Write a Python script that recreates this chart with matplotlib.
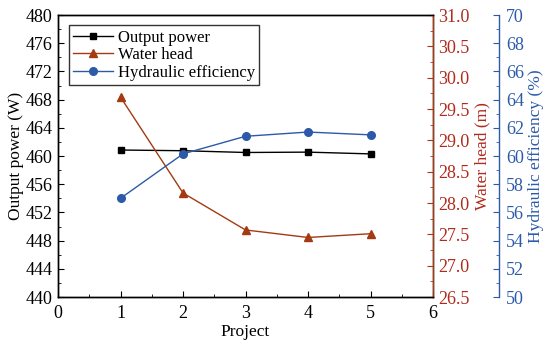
import matplotlib
matplotlib.use("Agg")
import matplotlib.pyplot as plt
from matplotlib.ticker import MultipleLocator, FormatStrFormatter

plt.rcParams['font.family'] = ['Liberation Serif', 'DejaVu Serif']
plt.rcParams['mathtext.fontset'] = 'stix'

projects = [1, 2, 3, 4, 5]
output_power = [460.85, 460.75, 460.5, 460.55, 460.3]
water_head = [29.69, 28.16, 27.57, 27.45, 27.51]
hydraulic_eff = [57.0, 60.15, 61.4, 61.7, 61.5]

c_power = 'black'
c_head = '#A33A12'
c_head_txt = '#B02A1E'
c_eff = '#2C5AA8'

fig = plt.figure(figsize=(5.5, 3.46), dpi=100)
ax = fig.add_axes([0.1055, 0.1416, 0.6818, 0.815])
ax2 = ax.twinx()
ax3 = ax.twinx()
ax3.spines['right'].set_position(('axes', 1.176))

fs_tick = 13
fs_lab = 12.5
fs_leg = 12
l1, = ax.plot(projects, output_power, color=c_power, marker='s', ms=4.5, lw=1, label='Output power')
l2, = ax2.plot(projects, water_head, color=c_head, marker='^', ms=5.5, lw=1, label='Water head')
l3, = ax3.plot(projects, hydraulic_eff, color=c_eff, marker='o', ms=5.5, lw=1, label='Hydraulic efficiency')

ax.set_xlim(0, 6)
ax.set_ylim(440, 480)
ax2.set_ylim(26.5, 31.0)
ax3.set_ylim(50, 70)

ax.xaxis.set_major_locator(MultipleLocator(1))
ax.xaxis.set_minor_locator(MultipleLocator(0.5))
ax.yaxis.set_major_locator(MultipleLocator(4))
ax.yaxis.set_minor_locator(MultipleLocator(2))
ax2.yaxis.set_major_locator(MultipleLocator(0.5))
ax2.yaxis.set_minor_locator(MultipleLocator(0.25))
ax2.yaxis.set_major_formatter(FormatStrFormatter('%.1f'))
ax3.yaxis.set_major_locator(MultipleLocator(2))
ax3.yaxis.set_minor_locator(MultipleLocator(1))

ax.tick_params(axis='both', which='major', direction='in', length=4, labelsize=fs_tick, top=False, right=False)
ax.tick_params(axis='both', which='minor', direction='in', length=2, top=False, right=False)
ax.tick_params(axis='x', which='major', pad=6)
ax.tick_params(axis='y', which='major', pad=4)

ax2.tick_params(axis='y', which='major', direction='in', length=4, labelsize=fs_tick, colors=c_head, labelcolor=c_head_txt, pad=4)
ax2.tick_params(axis='y', which='minor', direction='in', length=2, colors=c_head)
ax3.tick_params(axis='y', which='major', direction='in', length=4, labelsize=fs_tick, colors=c_eff, labelcolor=c_eff, pad=5)
ax3.tick_params(axis='y', which='minor', direction='in', length=2, colors=c_eff)

for a in (ax, ax2, ax3):
    for s in a.spines.values():
        s.set_linewidth(1)
ax2.spines['right'].set_color(c_head)
ax3.spines['right'].set_color(c_eff)
for s in ('left', 'top', 'bottom'):
    ax3.spines[s].set_visible(False)

ax.set_xlabel('Project', fontsize=fs_lab, labelpad=1)
ax.set_ylabel('Output power (W)', fontsize=fs_lab, labelpad=1)
ax2.set_ylabel('Water head (m)', fontsize=fs_lab, color=c_head_txt, labelpad=3)
ax3.set_ylabel('Hydraulic efficiency (%)', fontsize=fs_lab, color=c_eff, labelpad=3)

leg = ax.legend(handles=[l1, l2, l3], loc='upper left', bbox_to_anchor=(0.02, 0.975),
                fontsize=fs_leg, frameon=True, fancybox=False, edgecolor='black',
                handlelength=2.4, handletextpad=0.3, borderpad=0.25, labelspacing=0.1,
                borderaxespad=0.2)
leg.get_frame().set_linewidth(1)

fig.savefig('out.png', dpi=100)
